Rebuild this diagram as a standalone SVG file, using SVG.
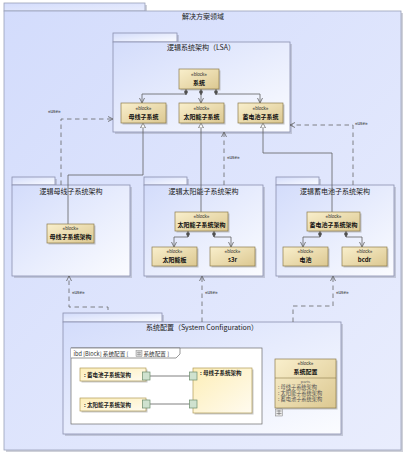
<svg xmlns="http://www.w3.org/2000/svg" width="406" height="454" viewBox="0 0 406 454">
<defs>
<linearGradient id="gOuter" x1="0" y1="0" x2="1" y2="1"><stop offset="0" stop-color="#d3dcfc"/><stop offset="1" stop-color="#e9edfd"/></linearGradient>
<linearGradient id="gPkg" x1="0" y1="0" x2="1" y2="1"><stop offset="0" stop-color="#d3dcfb"/><stop offset="1" stop-color="#fbfcff"/></linearGradient>
<linearGradient id="gBlock" x1="0" y1="0" x2="1" y2="1"><stop offset="0" stop-color="#f9efcc"/><stop offset="1" stop-color="#dcc891"/></linearGradient>
<linearGradient id="gPart" x1="0" y1="0" x2="1" y2="1"><stop offset="0" stop-color="#fdeeb8"/><stop offset="1" stop-color="#fffbef"/></linearGradient>
<marker id="open" markerUnits="userSpaceOnUse" markerWidth="6" markerHeight="6" refX="5" refY="2.5" orient="auto" viewBox="0 0 6 5"><path d="M0,0 L5,2.5 L0,5" fill="none" stroke="#606060" stroke-width="0.8"/></marker>
<marker id="tri" markerUnits="userSpaceOnUse" markerWidth="6" markerHeight="6" refX="5" refY="2.5" orient="auto" viewBox="0 0 6 5"><path d="M0,0 L5,2.5 L0,5 Z" fill="#ffffff" stroke="#606060" stroke-width="0.7"/></marker>
<marker id="dia" markerUnits="userSpaceOnUse" markerWidth="7" markerHeight="4" refX="0.3" refY="2" orient="auto" viewBox="0 0 7 4"><path d="M0.3,2 L3.3,0.3 L6.3,2 L3.3,3.7 Z" fill="#505050" stroke="#505050" stroke-width="0.5"/></marker>
<style>
.pkg{fill:url(#gPkg);stroke:#8a90ae;stroke-width:0.8}
.outer{fill:url(#gOuter);stroke:#9aa0b8;stroke-width:0.8}
.shadow{fill:#a0a4b4;opacity:0.5}
.blk{fill:url(#gBlock);stroke:#8c7b4c;stroke-width:0.7}
.bsh{fill:#9c9c9c;opacity:0.55}
.title{font-family:"Noto Sans CJK SC","Liberation Sans",sans-serif;font-size:7px;fill:#222;text-anchor:middle}
.st{font-family:"Liberation Sans","Noto Sans CJK SC",sans-serif;font-size:4.6px;fill:#333;text-anchor:middle}
.bn{font-family:"Noto Sans CJK SC","Liberation Sans",sans-serif;font-size:6px;font-weight:bold;fill:#111;text-anchor:middle}
.lbl{font-family:"Liberation Sans",sans-serif;font-size:4.6px;fill:#333}
.conn{fill:none;stroke:#606060;stroke-width:0.8}
.dash{fill:none;stroke:#666666;stroke-width:0.8;stroke-dasharray:4.5,3.5}
.part{fill:url(#gPart);stroke:#b09a58;stroke-width:0.7}
.port{fill:#cfe2cf;stroke:#6c8c6c;stroke-width:0.7}
.pt{font-family:"Noto Sans CJK SC","Liberation Sans",sans-serif;font-size:5.5px;font-weight:bold;fill:#222}
.pl{font-family:"Noto Sans CJK SC","Liberation Sans",sans-serif;font-size:5.2px;fill:#555}
.hd{font-family:"Noto Sans CJK SC","Liberation Sans",sans-serif;font-size:5.6px;fill:#333}
</style>
</defs>
<rect width="406" height="454" fill="#ffffff"/>

<g id="pkg-solution">
<rect class="shadow" x="6" y="5" width="141" height="8"/>
<rect class="shadow" x="6" y="13" width="397" height="439"/>
<rect class="outer" x="4" y="3" width="141" height="8"/>
<rect class="outer" x="4" y="11" width="397" height="439"/>
<text class="title" x="203" y="19">解决方案领域</text>
</g>

<g id="pkg-lsa">
<rect class="shadow" x="115" y="35" width="64" height="9"/>
<rect class="shadow" x="115" y="44" width="177" height="90"/>
<rect class="pkg" x="113" y="33" width="64" height="9"/>
<rect class="pkg" x="113" y="42" width="177" height="90"/>
<text class="title" x="201" y="50">逻辑系统架构（LSA）</text>
</g>

<g id="pkg-busbar">
<rect class="shadow" x="14" y="179" width="43" height="8"/>
<rect class="shadow" x="14" y="187" width="118" height="91"/>
<rect class="pkg" x="12" y="177" width="43" height="8"/>
<rect class="pkg" x="12" y="185" width="118" height="91"/>
<text class="title" x="71" y="194">逻辑母线子系统架构</text>
</g>

<g id="pkg-solar">
<rect class="shadow" x="146" y="179" width="43" height="8"/>
<rect class="shadow" x="146" y="187" width="119" height="91"/>
<rect class="pkg" x="144" y="177" width="43" height="8"/>
<rect class="pkg" x="144" y="185" width="119" height="91"/>
<text class="title" x="203.5" y="194">逻辑太阳能子系统架构</text>
</g>

<g id="pkg-battery">
<rect class="shadow" x="278" y="179" width="43" height="8"/>
<rect class="shadow" x="278" y="187" width="118" height="91"/>
<rect class="pkg" x="276" y="177" width="43" height="8"/>
<rect class="pkg" x="276" y="185" width="118" height="91"/>
<text class="title" x="335" y="194">逻辑蓄电池子系统架构</text>
</g>

<g id="pkg-config">
<rect class="shadow" x="65" y="315" width="99" height="9"/>
<rect class="shadow" x="65" y="324" width="278" height="112"/>
<rect class="pkg" x="63" y="313" width="99" height="9"/>
<rect class="pkg" x="63" y="322" width="278" height="112"/>
<text class="title" x="202" y="330">系统配置（System Configuration）</text>
</g>

<g id="connectors">
<path class="conn" d="M186,89 V94 H142 V103" marker-start="url(#dia)" marker-end="url(#open)"/>
<path class="conn" d="M201,89 V103" marker-start="url(#dia)" marker-end="url(#open)"/>
<path class="conn" d="M216,89 V94 H260 V103" marker-start="url(#dia)" marker-end="url(#open)"/>
<path class="conn" d="M188,231 V237 H174 V247" marker-start="url(#dia)" marker-end="url(#open)"/>
<path class="conn" d="M214,231 V237 H231 V247" marker-start="url(#dia)" marker-end="url(#open)"/>
<path class="conn" d="M320,231 V237 H303 V247" marker-start="url(#dia)" marker-end="url(#open)"/>
<path class="conn" d="M346,231 V237 H362 V247" marker-start="url(#dia)" marker-end="url(#open)"/>
<path class="conn" d="M68,224 V175 H143 V123" marker-end="url(#tri)"/>
<path class="conn" d="M201,212 V123" marker-end="url(#tri)"/>
<path class="conn" d="M332,212 V153 H263 V123" marker-end="url(#tri)"/>
<path class="dash" d="M61,185 V119 H113" marker-end="url(#open)"/>
<text class="lbl" x="48" y="113">«use»</text>
<path class="dash" d="M224,185 V132" marker-end="url(#open)"/>
<text class="lbl" x="227" y="159">«use»</text>
<path class="dash" d="M353,185 V125 H290" marker-end="url(#open)"/>
<text class="lbl" x="355" y="125">«use»</text>
<path class="dash" d="M108,310 V307 H69 V276" marker-end="url(#open)"/>
<text class="lbl" x="72" y="294">«use»</text>
<path class="dash" d="M202,322 V276" marker-end="url(#open)"/>
<text class="lbl" x="205" y="294">«use»</text>
<path class="dash" d="M293,322 V306 H333 V276" marker-end="url(#open)"/>
<text class="lbl" x="336" y="294">«use»</text>
</g>

<g id="blk-system">
<rect class="bsh" x="180.5" y="70.5" width="40" height="20"/>
<rect class="blk" x="179" y="69" width="40" height="20"/>
<text class="st" x="199" y="75.5">«block»</text>
<text class="bn" x="199" y="84.5">系统</text>
</g>
<g id="blk-busbar">
<rect class="bsh" x="122.5" y="104.5" width="45" height="20"/>
<rect class="blk" x="121" y="103" width="45" height="20"/>
<text class="st" x="143.5" y="109.5">«block»</text>
<text class="bn" x="143.5" y="118.5">母线子系统</text>
</g>
<g id="blk-solar">
<rect class="bsh" x="180.5" y="104.5" width="45" height="20"/>
<rect class="blk" x="179" y="103" width="45" height="20"/>
<text class="st" x="201.5" y="109.5">«block»</text>
<text class="bn" x="201.5" y="118.5">太阳能子系统</text>
</g>
<g id="blk-battery">
<rect class="bsh" x="239.5" y="104.5" width="45" height="20"/>
<rect class="blk" x="238" y="103" width="45" height="20"/>
<text class="st" x="260.5" y="109.5">«block»</text>
<text class="bn" x="260.5" y="118.5">蓄电池子系统</text>
</g>
<g id="blk-busbar-arch">
<rect class="bsh" x="48.5" y="225.5" width="47" height="19"/>
<rect class="blk" x="47" y="224" width="47" height="19"/>
<text class="st" x="70.5" y="230">«block»</text>
<text class="bn" x="70.5" y="239">母线子系统架构</text>
</g>
<g id="blk-solar-arch">
<rect class="bsh" x="176.5" y="213.5" width="53" height="19"/>
<rect class="blk" x="175" y="212" width="53" height="19"/>
<text class="st" x="201.5" y="218">«block»</text>
<text class="bn" x="201.5" y="227">太阳能子系统架构</text>
</g>
<g id="blk-panel">
<rect class="bsh" x="153.5" y="248.5" width="45" height="19"/>
<rect class="blk" x="152" y="247" width="45" height="19"/>
<text class="st" x="174.5" y="253">«block»</text>
<text class="bn" x="174.5" y="262">太阳能板</text>
</g>
<g id="blk-s3r">
<rect class="bsh" x="211.5" y="248.5" width="45" height="19"/>
<rect class="blk" x="210" y="247" width="45" height="19"/>
<text class="st" x="232.5" y="253">«block»</text>
<text class="bn" x="232.5" y="262">s3r</text>
</g>
<g id="blk-battery-arch">
<rect class="bsh" x="308.5" y="213.5" width="53" height="19"/>
<rect class="blk" x="307" y="212" width="53" height="19"/>
<text class="st" x="333.5" y="218">«block»</text>
<text class="bn" x="333.5" y="227">蓄电池子系统架构</text>
</g>
<g id="blk-cell">
<rect class="bsh" x="284.5" y="248.5" width="45" height="19"/>
<rect class="blk" x="283" y="247" width="45" height="19"/>
<text class="st" x="305.5" y="253">«block»</text>
<text class="bn" x="305.5" y="262">电池</text>
</g>
<g id="blk-bcdr">
<rect class="bsh" x="343.5" y="248.5" width="45" height="19"/>
<rect class="blk" x="342" y="247" width="45" height="19"/>
<text class="st" x="364.5" y="253">«block»</text>
<text class="bn" x="364.5" y="262">bcdr</text>
</g>

<g id="ibd-frame">
<rect x="71" y="348" width="191" height="76" fill="#ffffff" stroke="#6a6a6a" stroke-width="0.7"/>
<path d="M71,348 H180 V354 L176,358 H71" fill="#ffffff" stroke="#6a6a6a" stroke-width="0.7"/>
<text class="hd" x="73.5" y="355.5">ibd [Block] 系统配置 [</text>
<rect x="136" y="350.5" width="6" height="6" fill="#d8d8d8" stroke="#777" stroke-width="0.4"/>
<path d="M137,352.5 H141 M137,354.5 H141 M139,351.5 V355.5" stroke="#777" stroke-width="0.4"/>
<text class="hd" x="143.5" y="355.5">系统配置 ]</text>
</g>
<g id="ibd-connectors">
<path class="conn" d="M150,376 H190"/>
<path class="conn" d="M150,404 H190"/>
</g>
<g id="part-battery">
<rect class="bsh" x="81.5" y="369.5" width="66" height="13"/>
<rect class="part" x="80" y="368" width="66" height="13"/>
<text class="pt" x="84" y="376.5">: 蓄电池子系统架构</text>
<rect class="port" x="142.5" y="372" width="7.5" height="8"/>
</g>
<g id="part-solar">
<rect class="bsh" x="81.5" y="399.5" width="66" height="13"/>
<rect class="part" x="80" y="398" width="66" height="13"/>
<text class="pt" x="84" y="406.5">: 太阳能子系统架构</text>
<rect class="port" x="142.5" y="400" width="7.5" height="8"/>
</g>
<g id="part-busbar">
<rect class="bsh" x="194.5" y="369.5" width="59" height="45"/>
<rect class="part" x="193" y="368" width="59" height="45"/>
<text class="pt" x="200" y="375">: 母线子系统架构</text>
<rect class="port" x="189.5" y="372" width="7.5" height="8"/>
<rect class="port" x="189.5" y="400" width="7.5" height="8"/>
</g>

<g id="blk-config">
<rect class="bsh" x="276.5" y="360.5" width="61" height="49"/>
<rect class="blk" x="275" y="359" width="61" height="49"/>
<text class="st" x="305.5" y="365">«block»</text>
<text class="bn" x="305.5" y="373.5">系统配置</text>
<line x1="275" y1="378" x2="336" y2="378" stroke="#8c7b4c" stroke-width="0.6"/>
<text class="st" x="305.5" y="383" style="font-size:4.2px;fill:#666">parts</text>
<text class="pl" x="278" y="389">: 母线子系统架构</text>
<text class="pl" x="278" y="395">: 太阳能子系统架构</text>
<text class="pl" x="278" y="401">: 蓄电池子系统架构</text>
<rect x="275.5" y="409" width="7" height="7" fill="#e8e8e8" stroke="#666" stroke-width="0.4"/>
<path d="M276.5,411 H281.5 M276.5,413.5 H281.5 M279,410 V415" stroke="#555" stroke-width="0.5"/>
</g>
</svg>
